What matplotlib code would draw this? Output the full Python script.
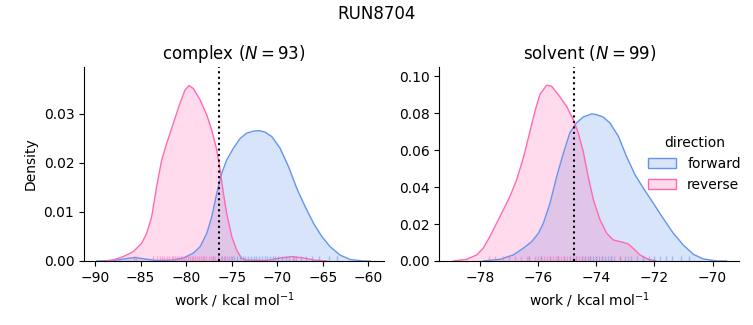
"""RUN8704 work distributions: complex vs solvent, forward vs reverse."""

import matplotlib

matplotlib.use("Agg")
import matplotlib.pyplot as plt
import numpy as np
from matplotlib.patches import Patch

FWD_C = "cornflowerblue"
REV_C = "hotpink"

# density curves (x in kcal/mol, y density)
cx_rev_x = [-89.0, -87.99, -86.89, -85.79, -84.88, -84.33, -83.78, -83.23, -82.68, -82.13,
            -81.40, -80.67, -80.12, -79.68, -79.21, -78.47, -77.74, -77.19, -76.64, -76.28,
            -75.91, -75.55, -75.00, -74.45, -73.90, -73.35, -71.16, -69.70, -68.40, -67.10,
            -66.00, -64.60]
cx_rev_y = [0.0, 0.0002, 0.0009, 0.0019, 0.0036, 0.0056, 0.0090, 0.0152, 0.0206, 0.0240,
            0.0281, 0.0322, 0.0349, 0.0358, 0.0352, 0.0329, 0.0298, 0.0267, 0.0227, 0.0186,
            0.0138, 0.0097, 0.0050, 0.0022, 0.0005, 0.0002, 0.0001, 0.0006, 0.0009, 0.0006,
            0.0002, 0.0]
cx_fwd_x = [-89.8, -88.0, -86.5, -85.6, -84.5, -83.2, -81.4, -80.30, -79.21, -78.47, -77.74,
            -77.19, -76.64, -76.10, -75.55, -74.82, -74.08, -73.35, -72.62, -72.00, -71.34,
            -70.61, -69.69, -68.78, -67.86, -66.95, -66.03, -65.12, -64.20, -63.11, -62.01,
            -60.55, -59.8]
cx_fwd_y = [0.0, 0.0001, 0.0005, 0.0007, 0.0004, 0.0001, 0.0002, 0.0006, 0.0016, 0.0029, 0.0056,
            0.0090, 0.0138, 0.0179, 0.0206, 0.0230, 0.0250, 0.0261, 0.0265, 0.0266, 0.0263,
            0.0254, 0.0230, 0.0193, 0.0148, 0.0111, 0.0077, 0.0050, 0.0029, 0.0012, 0.0003,
            0.0, 0.0]

sv_rev_x = [-78.92, -78.46, -78.11, -77.89, -77.66, -77.31, -76.97, -76.74, -76.51, -76.28,
            -76.11, -75.94, -75.71, -75.54, -75.31, -75.02, -74.79, -74.62, -74.45, -74.28,
            -74.10, -73.87, -73.64, -73.42, -73.13, -72.90, -72.73, -72.50, -72.21, -71.93]
sv_rev_y = [0.0, 0.0009, 0.0033, 0.0069, 0.0132, 0.0241, 0.0349, 0.0439, 0.0557, 0.0702,
            0.0810, 0.0901, 0.0951, 0.0946, 0.0901, 0.0837, 0.0765, 0.0693, 0.0593, 0.0458,
            0.0331, 0.0222, 0.0150, 0.0114, 0.0103, 0.0092, 0.0069, 0.0033, 0.0009, 0.0]
sv_fwd_x = [-77.89, -77.31, -76.85, -76.51, -76.22, -75.99, -75.82, -75.59, -75.36, -75.13,
            -74.91, -74.68, -74.45, -74.16, -73.99, -73.76, -73.53, -73.24, -72.96, -72.67,
            -72.38, -72.04, -71.70, -71.35, -71.01, -70.66, -70.32, -69.86, -69.52]
sv_fwd_y = [0.0, 0.0009, 0.0033, 0.0069, 0.0105, 0.0150, 0.0204, 0.0313, 0.0458, 0.0584,
            0.0693, 0.0747, 0.0779, 0.0796, 0.0792, 0.0779, 0.0747, 0.0675, 0.0566, 0.0467,
            0.0394, 0.0313, 0.0231, 0.0150, 0.0087, 0.0036, 0.0011, 0.0, 0.0]

# rug positions (approximate individual work values)
cx_rev_rug = [-85.5, -83.6, -83.2, -82.9, -82.6, -82.4, -82.1, -81.9, -81.6, -81.4, -81.2,
              -81.0, -80.8, -80.6, -80.4, -80.2, -80.0, -79.8, -79.6, -79.4, -79.2, -79.0,
              -78.8, -78.6, -78.4, -78.2, -78.0, -77.8, -77.5, -77.3, -77.0, -76.8, -76.5,
              -76.2, -75.9, -75.5, -75.1, -68.2]
cx_fwd_rug = [-85.7, -77.0, -76.5, -76.1, -75.7, -75.3, -75.0, -74.7, -74.4, -74.1, -73.8,
              -73.5, -73.2, -72.9, -72.6, -72.3, -72.0, -71.7, -71.4, -71.1, -70.8, -70.5,
              -70.2, -69.9, -69.5, -69.1, -68.7, -68.3, -67.9, -67.4, -66.9, -66.2, -65.4,
              -64.3, -63.4]
sv_rev_rug = [-77.7, -77.5, -77.2, -77.0, -76.8, -76.6, -76.4, -76.3, -76.1, -76.0, -75.9,
              -75.8, -75.7, -75.6, -75.5, -75.4, -75.3, -75.2, -75.1, -75.0, -74.9, -74.8,
              -74.7, -74.6, -74.5, -74.4, -74.2, -74.0, -73.8, -73.5, -73.2, -72.9]
sv_fwd_rug = [-76.3, -75.9, -75.6, -75.3, -75.1, -74.9, -74.7, -74.5, -74.4, -74.3, -74.2,
              -74.1, -74.0, -73.9, -73.8, -73.7, -73.6, -73.5, -73.4, -73.2, -73.0, -72.8,
              -72.6, -72.4, -72.2, -72.0, -71.8, -71.6, -71.4, -71.1, -70.8]

panels = [
    ("complex", 93, cx_fwd_x, cx_fwd_y, cx_rev_x, cx_rev_y, cx_fwd_rug, cx_rev_rug,
     -76.42, (-91.2, -58.3), 0.0396, np.arange(-90, -59, 5), [0, 0.01, 0.02, 0.03]),
    ("solvent", 99, sv_fwd_x, sv_fwd_y, sv_rev_x, sv_rev_y, sv_fwd_rug, sv_rev_rug,
     -74.78, (-79.40, -69.08), 0.105, np.arange(-78, -69, 2), [0, 0.02, 0.04, 0.06, 0.08, 0.10]),
]

fig = plt.figure(figsize=(7.53, 3.25), dpi=100)
lefts = [84 / 753, 439.3 / 753]
for left, (name, n, fx, fy, rx, ry, frug, rrug, vline, xlim, ytop, xt, yt) in zip(lefts, panels):
    ax = fig.add_axes([left, 0.197, 0.3984, 0.597])
    for x, y, c in [(fx, fy, FWD_C), (rx, ry, REV_C)]:
        ax.fill_between(x, y, color=c, alpha=0.25, lw=0)
        ax.plot(x, y, color=c, lw=1)
    for rug, c in [(frug, FWD_C), (rrug, REV_C)]:
        ax.vlines(rug, 0, 0.025, transform=ax.get_xaxis_transform(), color=c, lw=1, alpha=0.5)
    ax.axvline(vline, color="black", ls=":", lw=1.5)
    ax.set_xlim(*xlim)
    ax.set_ylim(0, ytop)
    ax.set_xticks(xt)
    ax.set_yticks(yt)
    ax.set_yticklabels([f"{v:.2f}" for v in yt])
    ax.set_xlabel("work / kcal mol$^{-1}$")
    ax.set_title(f"{name} ($N = {n}$)", fontsize=12)
    ax.spines["top"].set_visible(False)
    ax.spines["right"].set_visible(False)
    if name == "complex":
        ax.set_ylabel("Density")
    else:
        handles = [Patch(facecolor=(0.392, 0.584, 0.929, 0.25), edgecolor=FWD_C),
                   Patch(facecolor=(1.0, 0.412, 0.706, 0.25), edgecolor=REV_C)]
        ax.legend(handles, ["forward", "reverse"], title="direction", frameon=False,
                  loc="center left", bbox_to_anchor=(0.655, 0.50), fontsize=10,
                  title_fontsize=10)

fig.suptitle("RUN8704", fontsize=12, y=0.985)
fig.savefig("out.png", dpi=100)
